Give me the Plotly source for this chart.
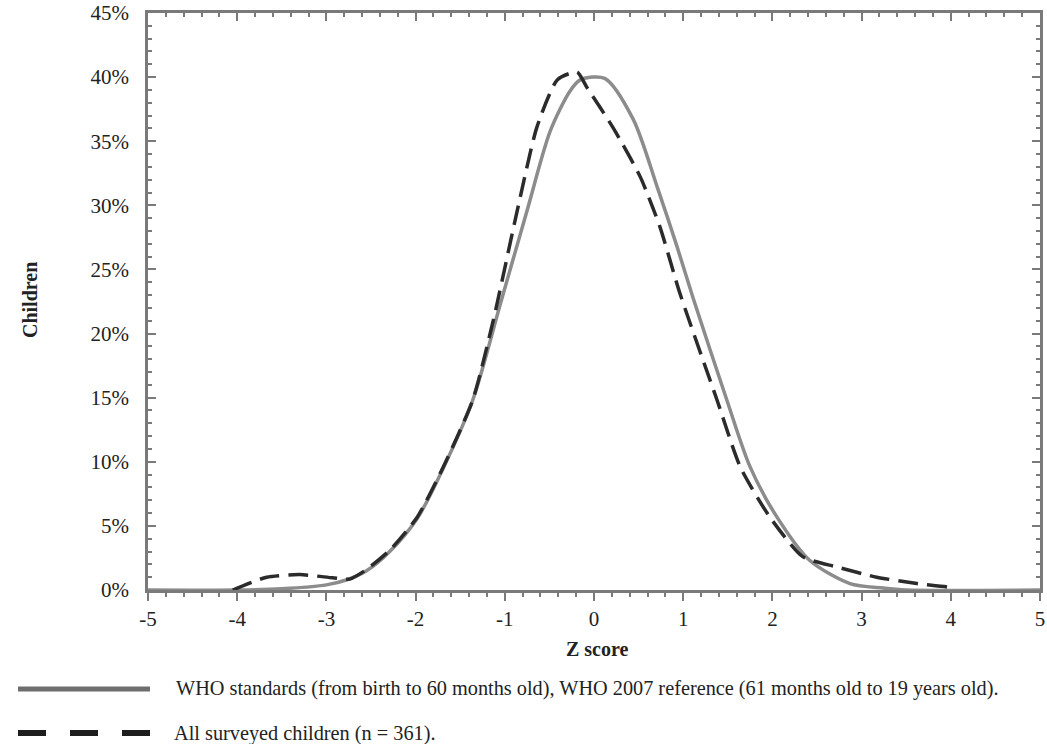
import plotly.graph_objects as go

# WHO reference curve (Z score, % of children)
who_z = [-5, -4, -3.5, -3.0, -2.77, -2.55, -2.29, -1.98, -1.69, -1.36, -1.05, -0.75, -0.49, -0.27, -0.15,
         0.12, 0.44, 0.71, 0.93, 1.11, 1.49, 1.75, 2.05, 2.42, 2.87, 3.24, 3.5, 5]
who_pct = [0, 0, 0.1, 0.4, 0.8, 1.5, 3.0, 5.6, 9.5, 14.8, 22.3, 29.6, 35.8, 38.9, 39.8,
           39.9, 36.7, 31.4, 26.8, 22.8, 14.8, 9.6, 5.7, 2.3, 0.5, 0.15, 0, 0]

# All surveyed children
surv_z = [-4.05, -3.67, -3.3, -2.93, -2.74, -2.55, -2.29, -1.98, -1.69, -1.36, -1.13, -0.86, -0.64, -0.41,
          -0.19, -0.08, 0.21, 0.52, 0.74, 0.96, 1.38, 1.64, 1.97, 2.34, 2.72, 3.17, 3.62, 3.99, 4.05]
surv_pct = [0, 1.0, 1.2, 0.95, 0.85, 1.6, 3.1, 5.7, 9.6, 14.8, 21.0, 29.6, 36.1, 39.8,
            40.4, 39.2, 36.1, 32.2, 28.3, 23.2, 14.8, 9.6, 5.7, 2.6, 1.8, 1.0, 0.5, 0.2, 0]

legend_labels = [
    "WHO standards (from birth to 60 months old), WHO 2007 reference (61 months old to 19 years old).",
    "All surveyed children (n = 361).",
]
x_ticks = [-5, -4, -3, -2, -1, 0, 1, 2, 3, 4, 5]
y_ticks = [0, 5, 10, 15, 20, 25, 30, 35, 40, 45]

FONT = "Liberation Serif"
AXC = "#7a7a7a"
TXT = "#222222"

W, H = 1047, 744
L, R, T, B = 148, 7, 13, 154

fig = go.Figure()
fig.add_trace(go.Scatter(x=who_z, y=who_pct, mode="lines", name=legend_labels[0],
                         line=dict(color="#8c8c8c", width=3.5, shape="spline", smoothing=0.8),
                         showlegend=False))
fig.add_trace(go.Scatter(x=surv_z, y=surv_pct, mode="lines", name=legend_labels[1],
                         line=dict(color="#2b2b2b", width=3.5, dash="20px,9px", shape="spline", smoothing=0.6),
                         showlegend=False))
# invisible trace to activate mirrored axes
fig.add_trace(go.Scatter(x=[None], y=[None], xaxis="x2", yaxis="y2", showlegend=False, hoverinfo="skip"))

common = dict(showline=True, linecolor=AXC, linewidth=2.5, showgrid=False, zeroline=False,
              automargin=False, tickwidth=2, tickcolor=AXC, ticklen=8)

fig.update_layout(
    width=W, height=H,
    margin=dict(l=L, r=R, t=T, b=B, autoexpand=False),
    paper_bgcolor="white", plot_bgcolor="white",
    font=dict(family=FONT, size=21, color=TXT),
    xaxis=dict(range=[-5, 5], tickvals=x_ticks, ticktext=[str(v) for v in x_ticks],
               ticks="outside",
               minor=dict(dtick=0.2, ticks="outside", ticklen=4, tickwidth=1.5, tickcolor=AXC),
               tickfont=dict(family=FONT, size=21, color=TXT), **common),
    yaxis=dict(range=[0, 45], tickvals=y_ticks, ticktext=[f"{v}%" for v in y_ticks],
               ticks="inside",
               minor=dict(dtick=1, ticks="inside", ticklen=4, tickwidth=1.5, tickcolor=AXC),
               ticklabelstandoff=12,
               tickfont=dict(family=FONT, size=21, color=TXT), **common),
    xaxis2=dict(range=[-5, 5], overlaying="x", side="top", anchor="y", tickvals=x_ticks, showticklabels=False,
                ticks="inside",
                minor=dict(dtick=0.2, ticks="inside", ticklen=4, tickwidth=1.5, tickcolor=AXC),
                **common),
    yaxis2=dict(range=[0, 45], overlaying="y", side="right", anchor="x", tickvals=y_ticks, showticklabels=False,
                ticks="inside",
                minor=dict(dtick=1, ticks="inside", ticklen=4, tickwidth=1.5, tickcolor=AXC),
                **common),
)

PW = W - L - R
PH = H - T - B

def px_x(p):
    return (p - L) / PW

def px_y(p):
    return (H - B - p) / PH

# axis titles
fig.add_annotation(text="<b>Children</b>", xref="paper", yref="paper", x=px_x(30), y=px_y(300),
                   textangle=-90, showarrow=False, font=dict(family=FONT, size=20, color=TXT),
                   xanchor="center", yanchor="middle")
fig.add_annotation(text="<b>Z score</b>", xref="paper", yref="paper", x=px_x(597), y=px_y(649),
                   showarrow=False, font=dict(family=FONT, size=20, color=TXT),
                   xanchor="center", yanchor="middle")

# custom legend below the chart
fig.add_shape(type="line", xref="paper", yref="paper", x0=px_x(18), x1=px_x(150),
              y0=px_y(689), y1=px_y(689), line=dict(color="#6e6e6e", width=5))
fig.add_shape(type="line", xref="paper", yref="paper", x0=px_x(18), x1=px_x(152),
              y0=px_y(733), y1=px_y(733), line=dict(color="#1e1e1e", width=6, dash="28px,24px"))
fig.add_annotation(text=legend_labels[0], xref="paper", yref="paper", x=px_x(174), y=px_y(689),
                   showarrow=False, xanchor="left", yanchor="middle",
                   font=dict(family=FONT, size=20.3, color=TXT))
fig.add_annotation(text=legend_labels[1], xref="paper", yref="paper", x=px_x(172), y=px_y(733),
                   showarrow=False, xanchor="left", yanchor="middle",
                   font=dict(family=FONT, size=20.3, color=TXT))

fig.write_html(
    "out.html",
    config={"displayModeBar": False},
    post_script="document.body.style.margin='0';document.body.style.overflow='hidden';",
)
